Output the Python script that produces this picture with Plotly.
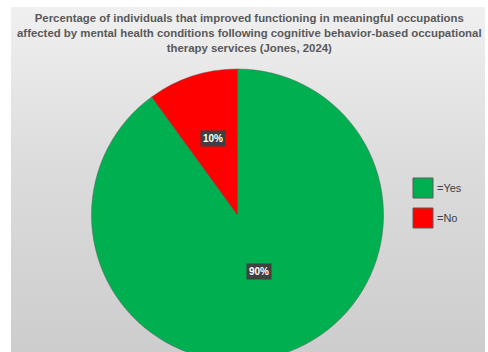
import math
import plotly.graph_objects as go

# ---- data ----
categories = ["=Yes", "=No"]
values = [90, 10]
percent_labels = ["90%", "10%"]
colors = ["#00B050", "#FF0000"]
title_lines = [
    "Percentage of individuals that improved functioning in meaningful occupations",
    "affected by mental health conditions following cognitive behavior-based occupational",
    "therapy services (Jones, 2024)",
]

W, H = 488, 400   # figure taller than window so that the pie is cut at the bottom like the reference


def px(x):
    return x / W


def py(y):
    return 1 - y / H


# pie geometry (pixels)
cx, cy, r = 237.5, 215.0, 146.0
label_radius = [0.47, 0.55]

fig = go.Figure()

# background panel with vertical gradient
fig.add_trace(go.Scatter(
    x=[0, 1, 1, 0, 0], y=[0, 0, 1, 1, 0], mode="lines", fill="toself",
    line=dict(width=0), hoverinfo="skip", showlegend=False,
    fillgradient=dict(type="vertical", colorscale=[[0, "#c9c9c9"], [0.6, "#dcdcdc"], [1, "#f0f0f0"]]),
))

fig.add_trace(go.Pie(
    labels=categories, values=values, sort=False, direction="clockwise", rotation=0,
    marker=dict(colors=colors, line=dict(color="rgba(80,80,80,0.55)", width=0.8)),
    textinfo="none", hoverinfo="label+percent", showlegend=False,
    domain=dict(x=[px(cx - r), px(cx + r)], y=[py(cy + r), py(cy - r)]),
))

fig.update_layout(
    width=W, height=H, margin=dict(l=0, r=0, t=0, b=0),
    paper_bgcolor="white", plot_bgcolor="rgba(0,0,0,0)",
    xaxis=dict(domain=[px(11), px(485)], range=[0, 1], visible=False, fixedrange=True),
    yaxis=dict(domain=[0, py(7)], range=[0, 1], visible=False, fixedrange=True),
    font=dict(family="Liberation Sans, Arial, sans-serif", color="#595959"),
)

# title
fig.add_annotation(
    x=px(249), y=py(33), xref="paper", yref="paper", showarrow=False,
    text="<b>" + "<br>".join(title_lines) + "</b>",
    font=dict(size=11.4, color="#595959"), align="center", yanchor="middle",
)

# percentage labels in dark boxes, placed at the angular middle of each slice
total = sum(values)
cum = 0.0
for v, lab, f in zip(values, percent_labels, label_radius):
    mid = (cum + v / 2) / total * 2 * math.pi
    cum += v
    lx = cx + f * r * math.sin(mid)
    ly = cy - f * r * math.cos(mid)
    fig.add_annotation(
        x=px(lx), y=py(ly), xref="paper", yref="paper", showarrow=False,
        text="<b>" + lab + "</b>", font=dict(size=10, color="white", family="Liberation Sans, Arial, sans-serif"),
        bgcolor="#404040", borderpad=2,
    )

# legend
leg_x0, leg_y0, box, gap = 413, 178, 20, 30
for i, (cat, col) in enumerate(zip(categories, colors)):
    y0 = leg_y0 + i * gap
    fig.add_shape(type="rect", xref="paper", yref="paper",
                  x0=px(leg_x0), x1=px(leg_x0 + box), y0=py(y0), y1=py(y0 + box),
                  fillcolor=col, line=dict(color="#5a5a5a", width=1))
    fig.add_annotation(x=px(leg_x0 + box + 2), y=py(y0 + box / 2), xref="paper", yref="paper",
                       showarrow=False, text=cat, xanchor="left", yanchor="middle",
                       font=dict(size=11, color="#404040"))

fig.write_html(
    "out.html",
    config={"displayModeBar": False},
    post_script="document.documentElement.style.overflow='hidden';document.body.style.overflow='hidden';document.body.style.margin='0';",
)
